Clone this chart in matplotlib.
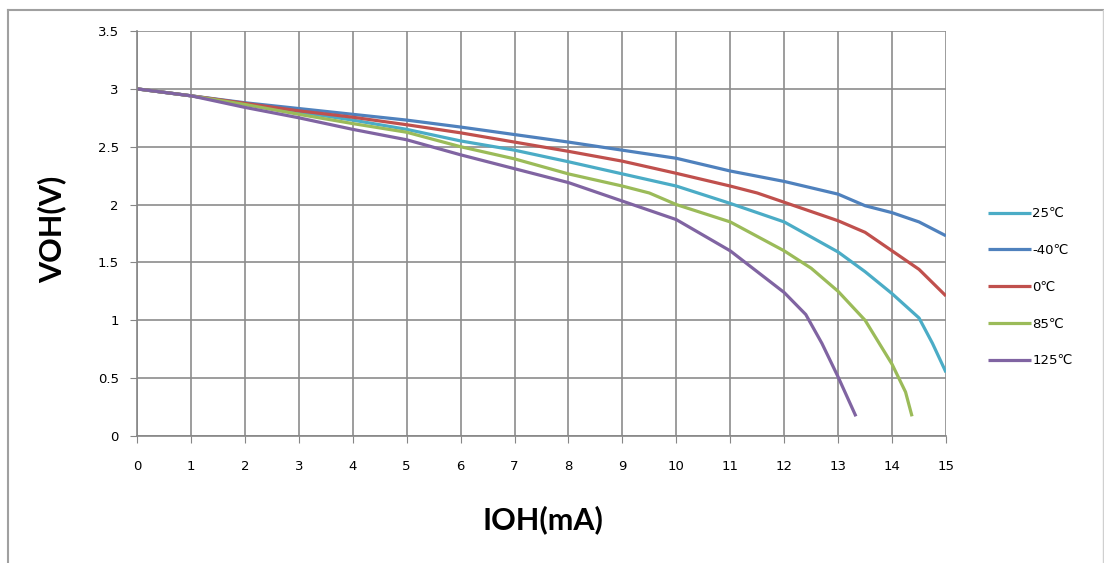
import matplotlib
matplotlib.use("Agg")
import matplotlib.pyplot as plt
from matplotlib.lines import Line2D

# IOH (mA) / VOH (V)
i_25 = [0, 1, 2, 3, 4, 5, 6, 7, 8, 9, 10, 11, 12, 13, 13.5, 14, 14.5, 14.75, 15]
v_25 = [3.00, 2.94, 2.87, 2.80, 2.73, 2.65, 2.55, 2.47, 2.37, 2.265, 2.16, 2.01, 1.85, 1.59, 1.42, 1.23, 1.02, 0.80, 0.55]

i_m40 = [0, 1, 2, 3, 4, 5, 6, 7, 8, 9, 10, 11, 12, 13, 13.5, 14, 14.5, 15]
v_m40 = [3.00, 2.94, 2.88, 2.83, 2.78, 2.73, 2.67, 2.605, 2.54, 2.47, 2.40, 2.29, 2.20, 2.09, 1.99, 1.93, 1.85, 1.73]

i_0 = [0, 1, 2, 3, 4, 5, 6, 7, 8, 9, 10, 11, 11.5, 12, 13, 13.5, 14, 14.5, 15]
v_0 = [3.00, 2.94, 2.875, 2.81, 2.755, 2.69, 2.62, 2.54, 2.46, 2.375, 2.27, 2.16, 2.10, 2.02, 1.86, 1.76, 1.60, 1.44, 1.21]

i_85 = [0, 1, 2, 3, 4, 5, 6, 7, 8, 9, 9.5, 10, 11, 12, 12.5, 13, 13.5, 14, 14.25, 14.37]
v_85 = [3.00, 2.94, 2.865, 2.78, 2.70, 2.625, 2.50, 2.395, 2.265, 2.16, 2.10, 2.00, 1.85, 1.60, 1.45, 1.25, 1.00, 0.62, 0.38, 0.17]

i_125 = [0, 1, 2, 3, 4, 5, 6, 7, 8, 9, 10, 11, 12, 12.4, 12.7, 13, 13.33]
v_125 = [3.00, 2.94, 2.84, 2.75, 2.65, 2.56, 2.43, 2.31, 2.19, 2.03, 1.87, 1.60, 1.24, 1.05, 0.80, 0.51, 0.17]

series = [
    ("25℃", i_25, v_25, "#4BACC6"),
    ("-40℃", i_m40, v_m40, "#4F81BD"),
    ("0℃", i_0, v_0, "#C0504D"),
    ("85℃", i_85, v_85, "#9BBB59"),
    ("125℃", i_125, v_125, "#8064A2"),
]

x_ticks = list(range(0, 16))
y_ticks = [0, 0.5, 1, 1.5, 2, 2.5, 3, 3.5]
y_tick_labels = ["0", "0.5", "1", "1.5", "2", "2.5", "3", "3.5"]

W, H = 1104, 563
fig = plt.figure(figsize=(W / 100, H / 100), dpi=100)
ax = fig.add_axes([137 / W, 1 - 436 / H, (946 - 137) / W, (436 - 31) / H])

for label, xs, ys, color in series:
    ax.plot(xs, ys, color=color, lw=2.3, label=label, solid_capstyle="butt")

ax.set_xlim(0, 15)
ax.set_ylim(0, 3.5)
ax.set_xticks(x_ticks)
ax.set_yticks(y_ticks)
ax.set_yticklabels(y_tick_labels)
ax.grid(True, color="#8c8c8c", lw=1.2)
ax.set_axisbelow(True)
for side in ["top", "right"]:
    ax.spines[side].set_visible(False)
for side in ["left", "bottom"]:
    ax.spines[side].set_color("#868686")
    ax.spines[side].set_linewidth(1.2)
ax.tick_params(axis="x", length=5, color="#868686", pad=12, labelsize=9.5)
ax.tick_params(axis="y", length=5, color="#868686", pad=8, labelsize=9.5)

fig.text(52 / W, 1 - 229 / H, "VOH(V)", rotation=90, ha="center", va="center",
         fontsize=22, fontweight="bold", family="Lato")
fig.text(543 / W, 1 - 520 / H, "IOH(mA)", ha="center", va="center",
         fontsize=22, fontweight="bold", family="Lato")

leg = fig.legend(loc="upper left", bbox_to_anchor=(983 / W, 1 - 202 / H),
                 frameon=False, fontsize=9.5, handlelength=3.2,
                 handletextpad=0.15, labelspacing=1.8, borderaxespad=0)

# outer chart frame
fig.add_artist(Line2D([7.5 / W, 7.5 / W], [0, 1 - 9.5 / H], color="#a0a0a0", lw=1.5))
fig.add_artist(Line2D([7.5 / W, 1], [1 - 9.5 / H, 1 - 9.5 / H], color="#a0a0a0", lw=1.5))
fig.add_artist(Line2D([1102.5 / W, 1102.5 / W], [0, 1 - 9.5 / H], color="#d0d0d0", lw=1))

fig.savefig("out.png", dpi=100)
